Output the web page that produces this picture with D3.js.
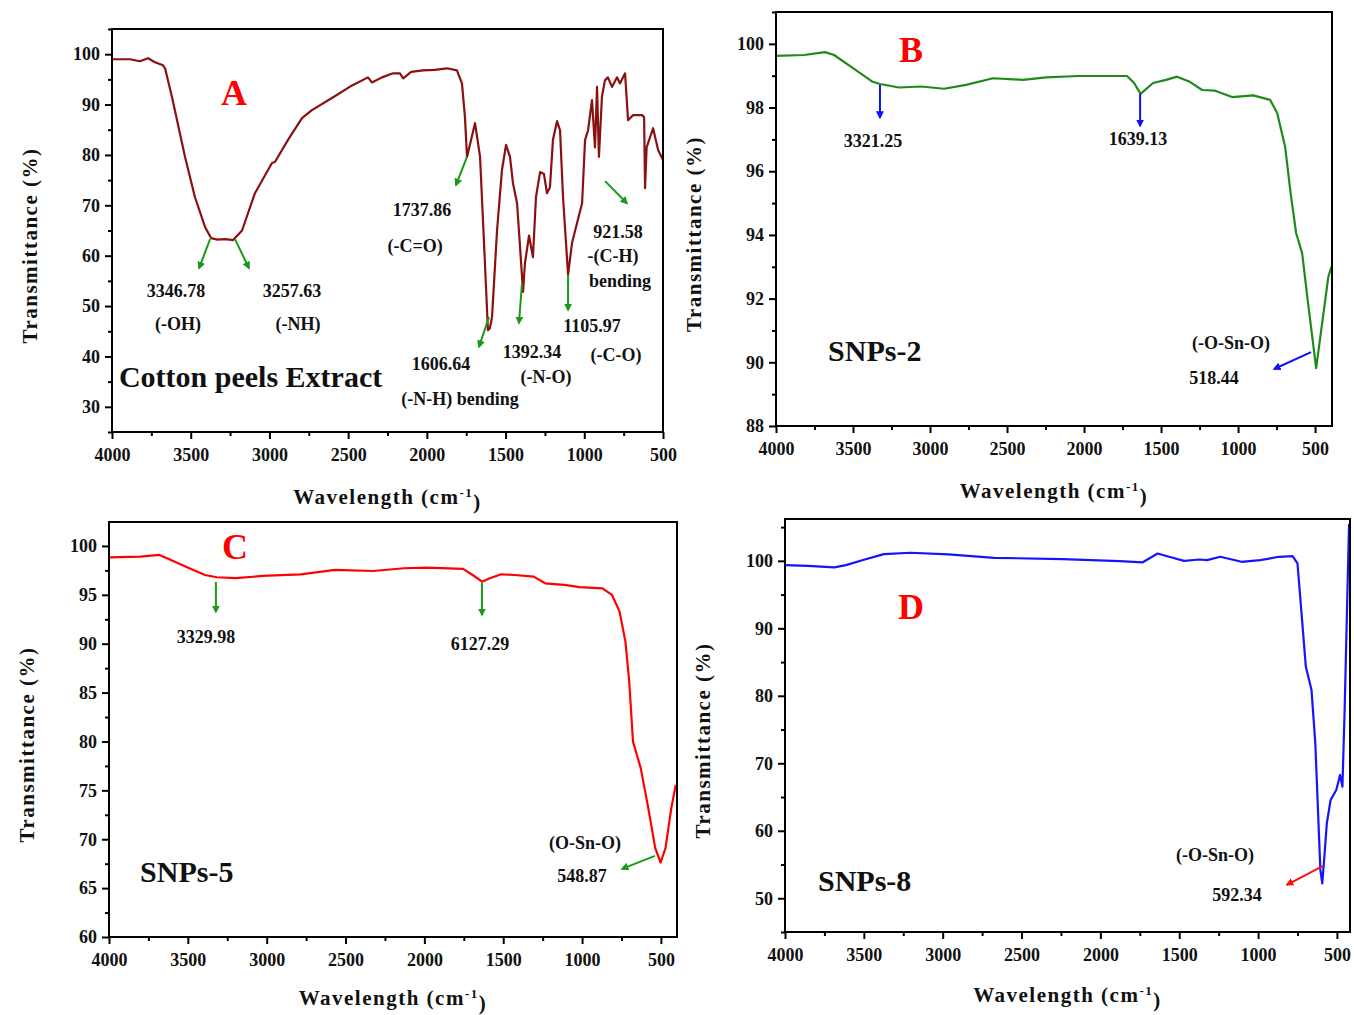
<!DOCTYPE html>
<html>
<head>
<meta charset="utf-8">
<script src="https://cdn.jsdelivr.net/npm/d3@7"></script>
<style>
    body { margin: 0; background: #fff; }
    text { font-family: "Liberation Serif", "Times New Roman", serif; font-weight: bold; }
</style>
</head>
<body>
<div id="chart"></div>
<script>
// FTIR spectra: wavenumber (cm-1), transmittance (%)
var spectrumA = [[4000, 99.0], [3885, 99.0], [3822, 98.6], [3771, 99.2], [3727, 98.4], [3676, 97.8],
    [3663, 97.2], [3619, 91.5], [3536, 79.6], [3473, 71.6], [3409, 65.7], [3371, 63.5], [3330, 63.2],
    [3280, 63.3], [3231, 63.1], [3174, 65.0], [3092, 72.4], [2984, 78.4], [2965, 78.6], [2882, 83.0],
    [2793, 87.3], [2730, 88.9], [2603, 91.3], [2475, 93.8], [2374, 95.4], [2349, 94.4], [2285, 95.4],
    [2215, 96.2], [2171, 96.2], [2150, 95.2], [2100, 96.5], [2024, 96.8], [1950, 96.9], [1872, 97.2],
    [1809, 96.8], [1777, 94.2], [1758, 87.5], [1745, 79.6], [1694, 86.3], [1662, 79.6], [1631, 58.5],
    [1612, 45.2], [1600, 45.6], [1586, 47.8], [1554, 65.1], [1523, 77.0], [1497, 82.0], [1472, 79.6],
    [1453, 74.4], [1427, 70.4], [1408, 61.7], [1389, 52.8], [1377, 58.5], [1351, 64.0], [1326, 59.7],
    [1307, 71.6], [1281, 76.6], [1256, 76.2], [1237, 72.4], [1218, 73.6], [1199, 83.0], [1173, 86.7],
    [1154, 84.9], [1135, 71.6], [1103, 56.2], [1078, 62.5], [1046, 66.5], [1014, 70.4], [995, 83.0],
    [976, 84.9], [951, 90.9], [932, 81.5], [919, 93.5], [907, 79.6], [888, 91.5], [869, 94.8],
    [850, 95.4], [824, 93.5], [792, 95.4], [773, 94.2], [741, 96.2], [722, 86.9], [690, 87.9],
    [633, 87.9], [620, 87.5], [614, 73.4], [604, 81.5], [563, 85.3], [531, 81.0], [500, 79.0]];

var spectrumB = [[4000, 99.62], [3818, 99.65], [3682, 99.74], [3623, 99.65], [3500, 99.24], [3377, 98.82],
    [3325, 98.74], [3201, 98.63], [3058, 98.66], [2909, 98.59], [2766, 98.71], [2591, 98.92],
    [2396, 98.87], [2247, 98.95], [2032, 98.99], [1721, 98.99], [1675, 98.77], [1633, 98.43],
    [1552, 98.77], [1467, 98.87], [1396, 98.97], [1318, 98.82], [1233, 98.55], [1149, 98.53],
    [1039, 98.33], [902, 98.38], [792, 98.24], [746, 97.83], [694, 96.76], [659, 95.32], [623, 94.06],
    [584, 93.43], [548, 91.96], [493, 89.82], [451, 91.33], [414, 92.68], [394, 93.0]];

var spectrumC = [[4000, 98.84], [3801, 98.9], [3680, 99.08], [3632, 98.74], [3512, 97.88], [3391, 97.03],
    [3317, 96.8], [3196, 96.7], [3027, 96.93], [2784, 97.1], [2567, 97.55], [2326, 97.44], [2130, 97.72],
    [1985, 97.78], [1755, 97.65], [1694, 97.03], [1634, 96.35], [1585, 96.7], [1512, 97.1], [1428, 97.03],
    [1307, 96.86], [1234, 96.18], [1113, 96.01], [1016, 95.78], [871, 95.67], [810, 94.99], [762, 93.28],
    [725, 90.21], [701, 86.13], [677, 79.99], [628, 77.27], [580, 73.18], [536, 69.09], [502, 67.62],
    [471, 69.09], [434, 73.18], [406, 75.56]];

var spectrumD = [[4000, 99.36], [3855, 99.26], [3687, 99.02], [3614, 99.36], [3494, 100.2], [3373, 101.0],
    [3204, 101.2], [2963, 100.95], [2674, 100.45], [2240, 100.25], [1878, 99.96], [1734, 99.76],
    [1637, 101.09], [1565, 100.6], [1469, 100.0], [1372, 100.2], [1324, 100.1], [1239, 100.6],
    [1106, 99.86], [986, 100.1], [866, 100.6], [781, 100.7], [750, 99.61], [726, 92.7], [697, 84.3],
    [661, 80.85], [637, 72.96], [620, 63.08], [605, 54.2], [593, 52.2], [581, 55.68], [564, 61.1],
    [540, 64.56], [504, 66.05], [480, 68.27], [465, 66.54], [451, 77.9], [436, 92.7], [423, 105.5]];

// tick labels
var xTicks = [4000, 3500, 3000, 2500, 2000, 1500, 1000, 500];
var xMinorTicks = [3750, 3250, 2750, 2250, 1750, 1250, 750];
var yTicksA = [30, 40, 50, 60, 70, 80, 90, 100];
var yMinorA = [25, 35, 45, 55, 65, 75, 85, 95, 105];
var yTicksB = [88, 90, 92, 94, 96, 98, 100];
var yMinorB = [89, 91, 93, 95, 97, 99, 101];
var yTicksC = [60, 65, 70, 75, 80, 85, 90, 95, 100];
var yMinorC = [62.5, 67.5, 72.5, 77.5, 82.5, 87.5, 92.5, 97.5];
var yTicksD = [50, 60, 70, 80, 90, 100];
var yMinorD = [45, 55, 65, 75, 85, 95, 105];

// peak arrows [from, to] in (wavenumber, %T)
var arrowsA = [[[3377, 63.3], [3447, 57.5]], [[3219, 63.3], [3130, 57.5]], [[1745, 79.6], [1815, 74.0]],
    [[1605, 47.8], [1669, 41.9]], [[1396, 54.4], [1415, 46.6]], [[1103, 56.2], [1103, 49.2]],
    [[868, 74.8], [729, 70.4]]];
var arrowsB = [[[3325, 98.71], [3325, 97.68]], [[1636, 98.43], [1636, 97.42]], [[526, 90.32], [766, 89.79]]];
var arrowsC = [[[3322, 96.32], [3322, 93.25]], [[1635, 96.22], [1635, 92.94]], [[538, 68.3], [747, 66.97]]];
var arrowsD = [[[588, 54.8], [817, 52.0]]];

// peak labels: text, wavenumber, %T
var labelsA = [["3346.78", 3593, 53.0], ["(-OH)", 3581, 46.4], ["3257.63", 2857, 53.0], ["(-NH)", 2819, 46.4],
    ["1737.86", 2031, 69.2], ["(-C=O)", 2075, 61.9], ["1606.64", 1910, 38.5], ["(-N-H) bending", 1790, 31.7],
    ["1392.34", 1332, 40.9], ["(-N-O)", 1243, 35.9], ["1105.97", 951, 46.2], ["(-C-O)", 799, 40.3],
    ["921.58", 786, 64.7], ["-(C-H)", 818, 59.9], ["bending", 773, 55.0]];
var labelsB = [["3321.25", 3370, 96.95], ["1639.13", 1649, 97.02], ["(-O-Sn-O)", 1045, 90.61], ["518.44", 1156, 89.51]];
var labelsC = [["3329.98", 3385, 90.7], ["6127.29", 1647, 89.98], ["(O-Sn-O)", 982, 69.63], ["548.87", 1001, 66.26]];
var labelsD = [["(-O-Sn-O)", 1273, 56.4], ["592.34", 1134, 50.5]];

var svg = d3.select("#chart")
    .append("svg")
    .attr("width", 1354)
    .attr("height", 1015);

var defs = svg.append("defs");

var panels = [
    { id: "A", left: 112, top: 29, right: 663, bottom: 432, xDomain: [4000, 500], yDomain: [25, 105],
      yTicks: yTicksA, yMinor: yMinorA, data: spectrumA, color: "#8b1010", arrowColor: "#1a9a1a",
      arrows: arrowsA, labels: labelsA, name: "Cotton peels Extract", nameAt: [3956, 36.1], letterAt: [3225, 92.5],
      titleGap: 65 },
    { id: "B", left: 776, top: 12, right: 1332, bottom: 426, xDomain: [4000, 390], yDomain: [88, 101],
      yTicks: yTicksB, yMinor: yMinorB, data: spectrumB, color: "#1f8a1a", arrowColor: "#1010ff",
      arrows: arrowsB, labels: labelsB, name: "SNPs-2", nameAt: [3662, 90.36], letterAt: [3123, 99.81],
      titleGap: 65 },
    { id: "C", left: 109, top: 522, right: 677, bottom: 937, xDomain: [4000, 398], yDomain: [60, 102.45],
      yTicks: yTicksC, yMinor: yMinorC, data: spectrumC, color: "#ff0000", arrowColor: "#1a9a1a",
      arrows: arrowsC, labels: labelsC, name: "SNPs-5", nameAt: [3803, 66.67], letterAt: [3201, 100],
      titleGap: 61 },
    { id: "D", left: 785, top: 519, right: 1350, bottom: 932, xDomain: [4000, 417], yDomain: [45, 106.2],
      yTicks: yTicksD, yMinor: yMinorD, data: spectrumD, color: "#1414ff", arrowColor: "#ff1010",
      arrows: arrowsD, labels: labelsD, name: "SNPs-8", nameAt: [3791, 52.6], letterAt: [3201, 93.3],
      titleGap: 63 }
];

panels.forEach(drawPanel);

function drawPanel(p) {
    var w = p.right - p.left,
        h = p.bottom - p.top;

    var g = svg.append("g")
        .attr("transform", "translate(" + p.left + "," + p.top + ")");

    var x = d3.scaleLinear().domain(p.xDomain).range([0, w]);
    var y = d3.scaleLinear().domain(p.yDomain).range([h, 0]);

    var inX = function (v) { return v <= p.xDomain[0] && v >= p.xDomain[1]; };
    var inY = function (v) { return v >= p.yDomain[0] && v <= p.yDomain[1]; };

    // minor ticks
    g.append("g")
        .attr("class", "axis")
        .attr("transform", "translate(0," + h + ")")
        .call(d3.axisBottom(x).tickValues(xMinorTicks.filter(inX)).tickSize(4).tickFormat(""));
    g.append("g")
        .attr("class", "axis")
        .call(d3.axisLeft(y).tickValues(p.yMinor.filter(inY)).tickSize(4).tickFormat(""));

    // major ticks
    g.append("g")
        .attr("class", "axis")
        .attr("transform", "translate(0," + h + ")")
        .call(d3.axisBottom(x).tickValues(xTicks).tickSize(7).tickPadding(9).tickFormat(d3.format("d")));
    g.append("g")
        .attr("class", "axis")
        .call(d3.axisLeft(y).tickValues(p.yTicks).tickSize(7).tickPadding(5).tickFormat(d3.format("d")));

    g.selectAll(".axis path.domain").remove();
    g.selectAll(".axis line").attr("stroke", "#000").attr("stroke-width", 2);
    g.selectAll(".axis text")
        .attr("fill", "#111")
        .style("font-size", "18px");

    // clip the spectrum to the frame
    defs.append("clipPath")
        .attr("id", "clip" + p.id)
        .append("rect")
        .attr("width", w)
        .attr("height", h);

    g.append("path")
        .datum(p.data)
        .attr("clip-path", "url(#clip" + p.id + ")")
        .attr("fill", "none")
        .attr("stroke", p.color)
        .attr("stroke-width", 2.2)
        .attr("stroke-linejoin", "round")
        .attr("d", d3.line()
            .x(d => x(d[0]))
            .y(d => y(d[1])));

    // frame
    g.append("rect")
        .attr("width", w)
        .attr("height", h)
        .attr("fill", "none")
        .attr("stroke", "#000")
        .attr("stroke-width", 2);

    // arrow head marker for this panel
    defs.append("marker")
        .attr("id", "head" + p.id)
        .attr("viewBox", "0 0 10 10")
        .attr("refX", 8)
        .attr("refY", 5)
        .attr("markerWidth", 4)
        .attr("markerHeight", 4)
        .attr("orient", "auto")
        .append("path")
        .attr("d", "M0,0L10,5L0,10z")
        .attr("fill", p.arrowColor);

    g.selectAll("line.peak")
        .data(p.arrows)
        .join("line")
        .attr("class", "peak")
        .attr("x1", d => x(d[0][0]))
        .attr("y1", d => y(d[0][1]))
        .attr("x2", d => x(d[1][0]))
        .attr("y2", d => y(d[1][1]))
        .attr("stroke", p.arrowColor)
        .attr("stroke-width", 2)
        .attr("marker-end", "url(#head" + p.id + ")");

    g.selectAll("text.peak")
        .data(p.labels)
        .join("text")
        .attr("class", "peak")
        .attr("x", d => x(d[1]))
        .attr("y", d => y(d[2]))
        .attr("dy", "0.35em")
        .attr("text-anchor", "middle")
        .style("font-size", "18px")
        .attr("fill", "#111")
        .text(d => d[0]);

    // sample name and panel letter
    g.append("text")
        .attr("x", x(p.nameAt[0]))
        .attr("y", y(p.nameAt[1]))
        .attr("dy", "0.35em")
        .style("font-size", "30px")
        .attr("fill", "#111")
        .text(p.name);

    g.append("text")
        .attr("x", x(p.letterAt[0]))
        .attr("y", y(p.letterAt[1]))
        .attr("dy", "0.35em")
        .attr("text-anchor", "middle")
        .style("font-size", "36px")
        .attr("fill", "#ff0000")
        .text(p.id);

    // axis titles
    g.append("text")
        .attr("transform", "translate(-82," + (h / 2 + 15) + ") rotate(-90)")
        .attr("text-anchor", "middle")
        .attr("dy", "0.35em")
        .style("font-size", "21px")
        .style("letter-spacing", "1.5px")
        .attr("fill", "#111")
        .text("Transmittance (%)");

    var xt = g.append("text")
        .attr("x", w / 2)
        .attr("y", h + p.titleGap)
        .attr("dy", "0.35em")
        .attr("text-anchor", "middle")
        .style("font-size", "21px")
        .style("letter-spacing", "1.5px")
        .attr("fill", "#111");
    xt.append("tspan").text("Wavelength (cm");
    xt.append("tspan").attr("dy", "-0.6em").style("font-size", "13px").text("-1");
    xt.append("tspan").attr("dy", "0.6em").text(")");
}
</script>
</body>
</html>
